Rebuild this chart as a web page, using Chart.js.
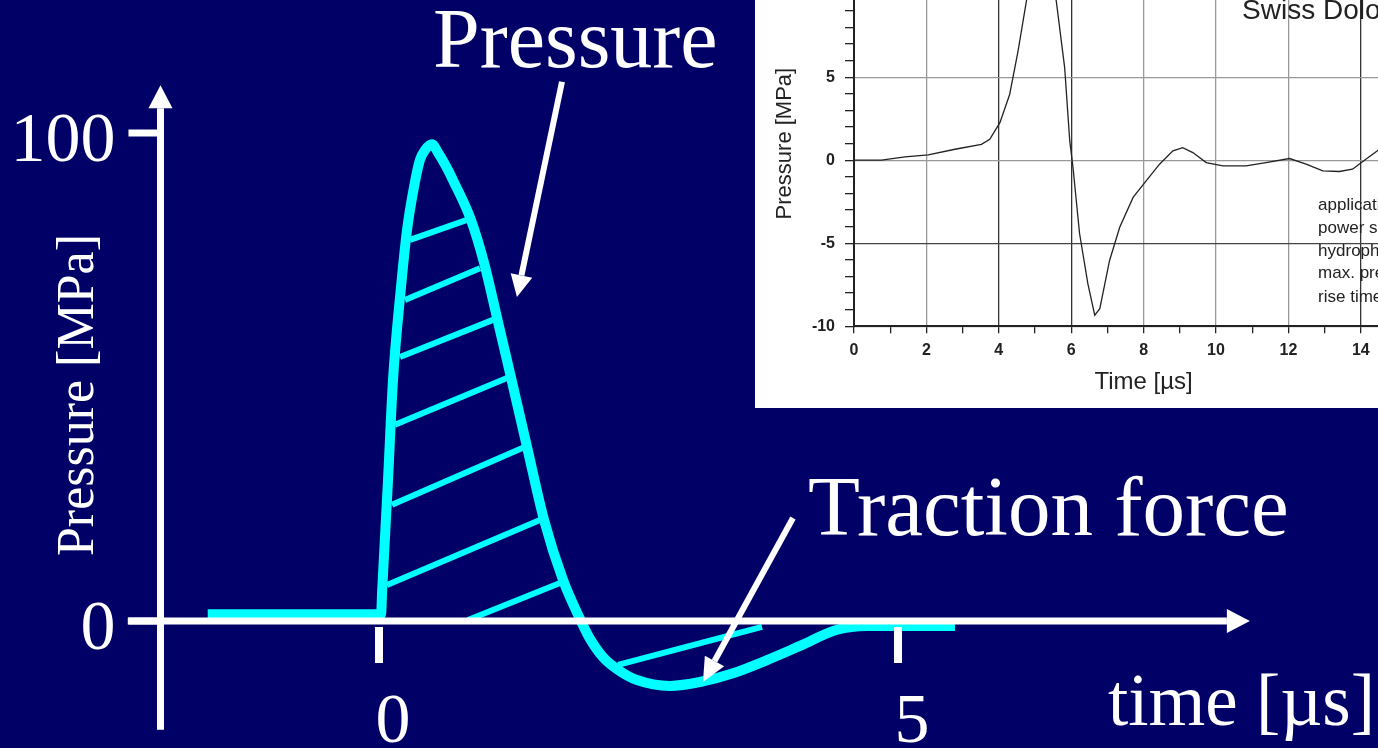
<!DOCTYPE html>
<html>
<head>
<meta charset="utf-8">
<script src="https://cdn.jsdelivr.net/npm/chart.js@4/dist/chart.umd.min.js"></script>
<style>
  html, body { margin: 0; padding: 0; background: #000066; overflow: hidden; }
  #main { position: absolute; left: 0; top: 0; }
  #insetBox { position: absolute; left: 755px; top: 0; width: 623px; height: 408px; overflow: hidden; background: #fff; }
  #inset { position: absolute; left: 0; top: -63px; }
</style>
</head>
<body>
<canvas id="main" width="1378" height="748"></canvas>
<div id="insetBox"><canvas id="inset" width="700" height="474"></canvas></div>
<script>
// sketched pulse (main drawing), time in µs, pressure in MPa (schematic)
let pulseTime = [-1.65, 0.02, 0.03, 0.087, 0.135, 0.212, 0.270, 0.337, 0.395, 0.443, 0.511, 0.568, 0.645, 0.723,
    0.886, 1.012, 1.142, 1.262, 1.426, 1.590, 1.773, 1.946, 2.023, 2.158, 2.303, 2.486, 2.803, 3.092, 3.410,
    3.738, 4.056, 4.412, 4.701, 5.019, 5.549];
let pulsePressure = [1.4, 1.4, 6.0, 28.9, 49.4, 68.4, 80.1, 88.9, 94.5, 96.5, 97.7, 96.0, 93.2, 89.9,
    82.2, 73.4, 61.7, 50.8, 35.7, 20.7, 8.4, 0, -3.3, -7.4, -10.0, -12.1, -13.3, -12.5, -10.7,
    -8.0, -5.1, -1.8, -1.0, -1.0, -1.0];

// hatching strokes inside the pulse
let hatchFromTime = [0.299, 0.250, 0.202, 0.154, 0.125, 0.077, 0.857, 2.303];
let hatchFromPressure = [78.1, 65.8, 54.1, 40.2, 23.8, 7.4, 0.2, -9.0];
let hatchToTime = [0.848, 0.973, 1.098, 1.233, 1.387, 1.551, 1.744, 3.690];
let hatchToPressure = [82.2, 72.3, 61.7, 49.8, 35.5, 20.7, 7.8, -1.2];

let mainYTicks = [0, 100];
let mainXTicks = [0, 5];

// measured hydrophone signal (inset)
let measuredTime = [0, 0.76, 1.41, 2.05, 2.79, 3.52, 3.75, 4.03, 4.30, 4.53, 4.76, 4.98, 5.35, 5.59, 5.82, 5.96,
    6.05, 6.23, 6.46, 6.65, 6.79, 7.06, 7.34, 7.71, 8.07, 8.44, 8.81, 9.08, 9.36, 9.73, 10.19, 10.83, 11.38,
    12.03, 12.49, 12.95, 13.41, 13.77, 14.14, 14.45, 14.9];
let measuredPressure = [0, 0.0, 0.2, 0.32, 0.66, 0.96, 1.26, 2.26, 3.96, 6.56, 9.55, 12.3, 12.6, 9.55, 5.56, 1.16,
    -0.44, -4.4, -7.44, -9.34, -8.94, -6.04, -4.04, -2.24, -1.24, -0.24, 0.56, 0.76, 0.46, -0.14, -0.34, -0.34, -0.14,
    0.1, -0.24, -0.64, -0.68, -0.54, 0.06, 0.56, 1.4];

let infoLines = ['application:', 'power setting:', 'hydrophone:', 'max. pressure:', 'rise time:'];
let infoLevels = [-2.71, -4.10, -5.48, -6.81, -8.25];

const CYAN = '#00ffff';
const SERIF = '"Liberation Serif", "Times New Roman", serif';
const SANS = '"Liberation Sans", Arial, sans-serif';

function drawArrow(ctx, x0, y0, x1, y1, width, headLen, headHalf) {
    let a = Math.atan2(y1 - y0, x1 - x0);
    let bx = x1 - Math.cos(a) * headLen, by = y1 - Math.sin(a) * headLen;
    ctx.lineWidth = width;
    ctx.beginPath();
    ctx.moveTo(x0, y0);
    ctx.lineTo(bx, by);
    ctx.stroke();
    ctx.beginPath();
    ctx.moveTo(x1, y1);
    ctx.lineTo(bx + Math.sin(a) * headHalf, by - Math.cos(a) * headHalf);
    ctx.lineTo(bx - Math.sin(a) * headHalf, by + Math.cos(a) * headHalf);
    ctx.closePath();
    ctx.fill();
}

let mainOverlay = {
    id: 'mainOverlay',
    afterDatasetsDraw(chart) {
        let ctx = chart.ctx;
        let X = v => chart.scales.x.getPixelForValue(v);
        let Y = v => chart.scales.y.getPixelForValue(v);
        ctx.save();
        ctx.strokeStyle = '#fff';
        ctx.fillStyle = '#fff';
        ctx.lineCap = 'butt';

        // axes with arrow heads
        drawArrow(ctx, X(-2.105), Y(-22.3), X(-2.105), Y(109.8), 7, 23, 12);
        drawArrow(ctx, X(-2.42), Y(0), X(8.39), Y(0), 7, 23, 12);

        // y ticks + labels
        ctx.font = '70px ' + SERIF;
        ctx.textAlign = 'right';
        ctx.textBaseline = 'alphabetic';
        mainYTicks.forEach(v => {
            ctx.lineWidth = 7;
            ctx.beginPath();
            ctx.moveTo(X(-2.105) - 32, Y(v));
            ctx.lineTo(X(-2.105), Y(v));
            ctx.stroke();
            ctx.fillText(String(v), X(-2.105) - 45, Y(v) + 28);
        });

        // x ticks + labels
        ctx.textAlign = 'center';
        mainXTicks.forEach(v => {
            ctx.lineWidth = 8;
            ctx.beginPath();
            ctx.moveTo(X(v), Y(0) + 6);
            ctx.lineTo(X(v), Y(0) + 42);
            ctx.stroke();
            ctx.fillText(String(v), X(v) + 14, Y(0) + 121);
        });

        // axis titles
        ctx.textAlign = 'left';
        ctx.font = '73px ' + SERIF;
        ctx.fillText('time [µs]', X(7.023), Y(-21.3));
        ctx.save();
        ctx.translate(X(-2.755), Y(46.3));
        ctx.rotate(-Math.PI / 2);
        ctx.textAlign = 'center';
        ctx.font = '52px ' + SERIF;
        ctx.fillText('Pressure [MPa]', 0, 0);
        ctx.restore();

        // annotations
        ctx.font = '84px ' + SERIF;
        ctx.fillText('Pressure', X(0.52), Y(113.5));
        ctx.font = '85px ' + SERIF;
        ctx.fillText('Traction force', X(4.133), Y(17.6));
        drawArrow(ctx, X(1.763), Y(110.5), X(1.329), Y(66.4), 6, 22, 11);
        drawArrow(ctx, X(3.988), Y(21.1), X(3.121), Y(-12.5), 6, 24, 11);
        ctx.restore();
    }
};

let mainDatasets = [{
    data: pulseTime.map((t, i) => ({x: t, y: pulsePressure[i]})),
    borderColor: CYAN,
    borderWidth: 10,
    pointRadius: 0,
    cubicInterpolationMode: 'monotone',
    borderJoinStyle: 'round'
}];
for (let i = 0; i < hatchFromTime.length; i++) {
    mainDatasets.push({
        data: [{x: hatchFromTime[i], y: hatchFromPressure[i]}, {x: hatchToTime[i], y: hatchToPressure[i]}],
        borderColor: CYAN,
        borderWidth: 6,
        pointRadius: 0,
        tension: 0,
        borderCapStyle: 'butt'
    });
}

new Chart(document.getElementById('main'), {
    type: 'line',
    data: {datasets: mainDatasets},
    options: {
        responsive: false,
        animation: false,
        events: [],
        layout: {padding: 0},
        plugins: {legend: {display: false}, tooltip: {enabled: false}},
        scales: {
            x: {type: 'linear', min: -3.651, max: 9.624, display: false},
            y: {type: 'linear', min: -26.02, max: 127.25, display: false}
        }
    },
    plugins: [mainOverlay]
});

let insetText = {
    id: 'insetText',
    afterDraw(chart) {
        let ctx = chart.ctx;
        let X = v => chart.scales.x.getPixelForValue(v);
        let Y = v => chart.scales.y.getPixelForValue(v);
        ctx.save();
        ctx.fillStyle = '#222';
        ctx.textAlign = 'left';
        ctx.textBaseline = 'alphabetic';
        ctx.font = '28px ' + SANS;
        ctx.fillText('Swiss DolorClast', X(10.72), Y(8.5));
        ctx.font = '17px ' + SANS;
        ctx.textBaseline = 'middle';
        infoLines.forEach((s, i) => ctx.fillText(s, X(12.82), Y(infoLevels[i])));
        ctx.restore();
    }
};

new Chart(document.getElementById('inset'), {
    type: 'line',
    data: {
        datasets: [{
            data: measuredTime.map((t, i) => ({x: t, y: measuredPressure[i]})),
            borderColor: '#222',
            borderWidth: 1.3,
            pointRadius: 0,
            tension: 0
        }]
    },
    options: {
        responsive: false,
        animation: false,
        events: [],
        layout: {padding: {top: 24, right: 21.8, left: 0, bottom: 0}},
        plugins: {legend: {display: false}, tooltip: {enabled: false}},
        scales: {
            x: {
                type: 'linear', min: 0, max: 16,
                afterFit: s => { s.height = 84.8; },
                ticks: {
                    stepSize: 1, autoSkip: false, maxRotation: 0, padding: 8, color: '#222',
                    font: {family: SANS, size: 16, weight: 'bold'},
                    callback: v => v % 2 === 0 ? v : ''
                },
                grid: {
                    color: c => c.tick.value % 2 ? 'rgba(0,0,0,0)' : ([4, 6, 14].includes(c.tick.value) ? '#333' : '#999'),
                    tickColor: '#222', tickLength: 7, lineWidth: 1.3
                },
                border: {color: '#222', width: 2},
                title: {display: true, text: 'Time [µs]', color: '#222', font: {family: SANS, size: 24}, padding: {bottom: 14.6}}
            },
            y: {
                type: 'linear', min: -10, max: 12,
                afterFit: s => { s.width = 99; },
                ticks: {
                    stepSize: 1, autoSkip: false, padding: 10, color: '#222',
                    font: {family: SANS, size: 16, weight: 'bold'},
                    callback: v => v % 5 === 0 ? v : ''
                },
                grid: {
                    color: c => c.tick.value % 5 ? 'rgba(0,0,0,0)' : (c.tick.value === -5 ? '#444' : '#999'),
                    tickColor: '#222', tickLength: 9, lineWidth: 1.3
                },
                border: {color: '#222', width: 2},
                title: {display: true, text: 'Pressure [MPa]', color: '#222', font: {family: SANS, size: 22}, padding: {top: 17}}
            }
        }
    },
    plugins: [insetText]
});
</script>
</body>
</html>
